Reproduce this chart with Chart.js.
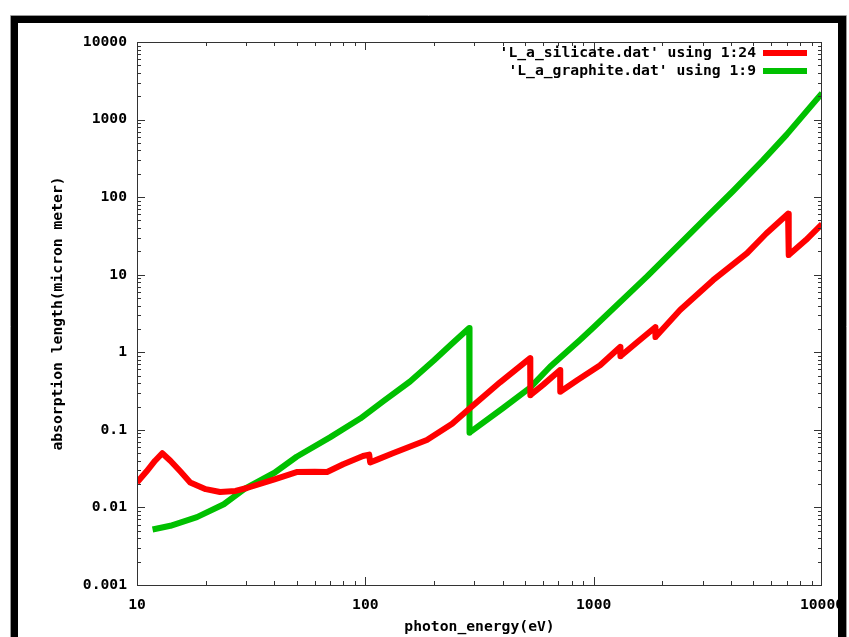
<!DOCTYPE html>
<html>
<head>
<meta charset="utf-8">
<title>absorption length</title>
<script src="https://cdn.jsdelivr.net/npm/chart.js"></script>
<style>
  html, body { margin: 0; padding: 0; background: #fff; }
  #wrap { width: 849px; height: 637px; }
</style>
</head>
<body>
<div id="wrap"><canvas id="chart" width="849" height="637"></canvas></div>
<script>
// silicate, column 24 (photon energy eV, absorption length micron)
const silicateX = [10, 11, 12, 12.9, 14, 15.5, 17.1, 20, 23.1, 27, 30.3, 40, 50, 60, 68, 80, 97.7, 104, 105, 112, 132, 186, 240, 287, 389, 527, 528, 600, 713, 714, 850, 1067, 1306, 1310, 1550, 1860, 1865, 2390, 3334, 4700, 5700, 7100, 7150, 8500, 10000];
const silicateY = [0.021, 0.029, 0.040, 0.050, 0.040, 0.029, 0.021, 0.0172, 0.0158, 0.0163, 0.0178, 0.023, 0.0286, 0.0288, 0.0286, 0.036, 0.046, 0.048, 0.038, 0.041, 0.050, 0.074, 0.12, 0.19, 0.41, 0.84, 0.28, 0.38, 0.59, 0.31, 0.44, 0.68, 1.17, 0.89, 1.35, 2.1, 1.57, 3.5, 8.5, 19, 34, 61, 17.9, 28, 45];

// graphite, column 9
const graphiteX = [11.7, 14, 18.3, 24, 29.7, 40, 50, 70, 95, 120, 157, 200, 240, 285, 286, 400, 527, 644, 871, 1000, 1714, 2566, 3140, 4080, 5520, 7000, 10000];
const graphiteY = [0.0052, 0.0058, 0.0075, 0.011, 0.0175, 0.028, 0.045, 0.08, 0.14, 0.235, 0.42, 0.79, 1.3, 2.05, 0.092, 0.19, 0.35, 0.65, 1.44, 2.1, 9.5, 31, 56, 120, 300, 640, 2190];

const seriesLabels = ["'L_a_silicate.dat' using 1:24", "'L_a_graphite.dat' using 1:9"];
const seriesColors = ['#ff0000', '#00c000'];

const xTicks = [10, 100, 1000, 10000];
const xTickLabels = ['10', '100', '1000', '10000'];
const yTicks = [0.001, 0.01, 0.1, 1, 10, 100, 1000, 10000];
const yTickLabels = ['0.001', '0.01', '0.1', '1', '10', '100', '1000', '10000'];

const xTitle = 'photon_energy(eV)';
const yTitle = 'absorption length(micron meter)';

const FONT = 'bold 14.7px "DejaVu Sans Mono", "Liberation Mono", monospace';

function toPoints(xs, ys) {
  return xs.map((x, i) => ({ x: x, y: ys[i] }));
}

// gnuplot style frame, inward ticks, legend and titles
const gnuplotLook = {
  id: 'gnuplotLook',
  afterDraw(chart) {
    const ctx = chart.ctx;
    const a = chart.chartArea;
    const sx = chart.scales.x, sy = chart.scales.y;
    ctx.save();

    // plot border
    ctx.strokeStyle = '#333';
    ctx.lineWidth = 1;
    ctx.strokeRect(a.left + 0.5, a.top + 0.5, a.right - a.left - 1, a.bottom - a.top);

    // inward ticks on all four sides
    ctx.beginPath();
    for (let d = 10; d < 10000; d *= 10) {
      for (let m = 1; m <= 9; m++) {
        const px = Math.round(sx.getPixelForValue(d * m)) + 0.5;
        const len = m === 1 ? 8 : 4;
        ctx.moveTo(px, a.bottom); ctx.lineTo(px, a.bottom - len);
        ctx.moveTo(px, a.top); ctx.lineTo(px, a.top + len);
      }
    }
    for (let d = 0.001; d < 10000; d *= 10) {
      for (let m = 1; m <= 9; m++) {
        const py = Math.round(sy.getPixelForValue(d * m)) + 0.5;
        const len = m === 1 ? 8 : 4;
        ctx.moveTo(a.left, py); ctx.lineTo(a.left + len, py);
        ctx.moveTo(a.right, py); ctx.lineTo(a.right - len, py);
      }
    }
    ctx.stroke();

    // legend
    ctx.font = FONT;
    ctx.fillStyle = '#000';
    ctx.textAlign = 'right';
    ctx.textBaseline = 'middle';
    const legY = [53, 71];
    seriesLabels.forEach((lab, i) => {
      ctx.fillText(lab, 756, legY[i]);
      ctx.strokeStyle = seriesColors[i];
      ctx.lineWidth = 6;
      ctx.beginPath();
      ctx.moveTo(763, legY[i]);
      ctx.lineTo(807, legY[i]);
      ctx.stroke();
    });

    // axis titles
    ctx.fillStyle = '#000';
    ctx.textAlign = 'center';
    ctx.fillText(xTitle, (a.left + a.right) / 2, 627);
    ctx.save();
    ctx.translate(58, (a.top + a.bottom) / 2);
    ctx.rotate(-Math.PI / 2);
    ctx.fillText(yTitle, 0, 0);
    ctx.restore();

    // outer black frame
    ctx.fillStyle = '#000';
    ctx.fillRect(11, 16, 836, 7);
    ctx.fillRect(11, 16, 7, 621);
    ctx.fillRect(838, 16, 8, 621);
    ctx.strokeStyle = '#999';
    ctx.lineWidth = 1;
    ctx.beginPath();
    ctx.moveTo(10.5, 637); ctx.lineTo(10.5, 15.5); ctx.lineTo(846.5, 15.5); ctx.lineTo(846.5, 637);
    ctx.stroke();
    ctx.restore();
  }
};

new Chart(document.getElementById('chart'), {
  type: 'line',
  data: {
    datasets: [
      { label: seriesLabels[0], data: toPoints(silicateX, silicateY), borderColor: seriesColors[0], backgroundColor: seriesColors[0], borderWidth: 6, borderJoinStyle: 'round', pointRadius: 0, tension: 0, fill: false },
      { label: seriesLabels[1], data: toPoints(graphiteX, graphiteY), borderColor: seriesColors[1], backgroundColor: seriesColors[1], borderWidth: 6, borderJoinStyle: 'round', pointRadius: 0, tension: 0, fill: false }
    ]
  },
  options: {
    responsive: false,
    animation: false,
    devicePixelRatio: 1,
    layout: { padding: { left: 0, top: 42, right: 27, bottom: 0 } },
    plugins: { legend: { display: false }, tooltip: { enabled: false } },
    scales: {
      x: {
        type: 'logarithmic',
        min: 10, max: 10000,
        grid: { display: false, drawTicks: false },
        border: { display: false },
        afterBuildTicks: s => { s.ticks = xTicks.map(v => ({ value: v })); },
        afterFit: s => { s.height = 52; s.paddingLeft = 0; s.paddingRight = 0; },
        ticks: {
          color: '#000', font: { family: '"DejaVu Sans Mono"', size: 14.7, weight: 'bold' },
          padding: 11, maxRotation: 0, autoSkip: false,
          callback: (v) => xTickLabels[xTicks.indexOf(v)]
        }
      },
      y: {
        type: 'logarithmic',
        min: 0.001, max: 10000,
        grid: { display: false, drawTicks: false },
        border: { display: false },
        afterBuildTicks: s => { s.ticks = yTicks.map(v => ({ value: v })); },
        afterFit: s => { s.width = 137; s.paddingTop = 0; s.paddingBottom = 0; },
        ticks: {
          color: '#000', font: { family: '"DejaVu Sans Mono"', size: 14.7, weight: 'bold' },
          padding: 10, autoSkip: false,
          callback: (v) => yTickLabels[yTicks.findIndex(t => Math.abs(t - v) / t < 1e-6)]
        }
      }
    }
  },
  plugins: [gnuplotLook]
});
</script>
</body>
</html>
